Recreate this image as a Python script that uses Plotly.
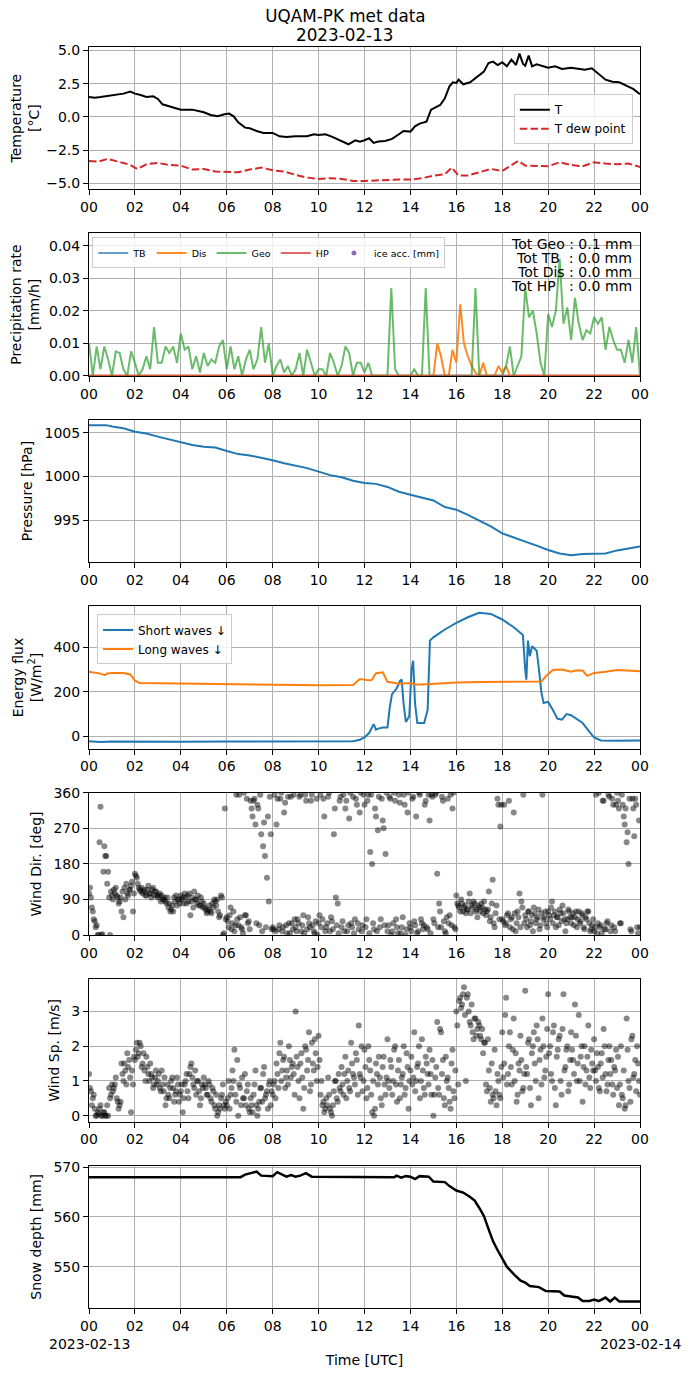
import plotly.graph_objects as go
from plotly.subplots import make_subplots

# ---- temperature (hours UTC since 2023-02-13 00:00) ----
t_temp = [0, 0.25, 0.5, 0.75, 1.0, 1.25, 1.5, 1.8, 2.0, 2.25,
          2.5, 2.8, 3.0, 3.2, 3.5, 3.8, 4.0, 4.5, 5.0, 5.3,
          5.6, 5.9, 6.1, 6.3, 6.5, 6.8, 7.0, 7.3, 7.6, 8.0,
          8.3, 8.6, 9.0, 9.5, 9.8, 10.0, 10.3, 10.6, 11.0, 11.3,
          11.6, 11.8, 12.0, 12.2, 12.4, 12.6, 12.9, 13.2, 13.5, 13.7,
          14.0, 14.2, 14.4, 14.7, 14.9, 15.1, 15.3, 15.5, 15.7, 15.85,
          16.0, 16.1, 16.3, 16.6, 16.9, 17.2, 17.4, 17.6, 17.8, 18.0,
          18.2, 18.4, 18.6, 18.75, 18.9, 19.0, 19.15, 19.3, 19.5, 19.8,
          20.0, 20.3, 20.6, 21.0, 21.3, 21.6, 21.9, 22.2, 22.5, 22.8,
          23.1, 23.4, 23.7, 24.0]
temp = [1.5, 1.45, 1.5, 1.55, 1.65, 1.7, 1.75, 1.9, 1.75, 1.65,
        1.5, 1.55, 1.35, 0.95, 0.8, 0.6, 0.55, 0.55, 0.35, 0.15,
        0.05, 0.2, 0.25, 0.05, -0.4, -0.8, -0.85, -1.05, -1.2, -1.2,
        -1.45, -1.5, -1.45, -1.45, -1.3, -1.35, -1.3, -1.5, -1.8, -2.05,
        -1.75, -1.85, -1.75, -1.6, -1.95, -1.85, -1.8, -1.65, -1.3, -1.05,
        -1.1, -0.7, -0.5, -0.35, 0.55, 0.75, 0.9, 1.4, 2.3, 2.6,
        2.55, 2.8, 2.45, 2.6, 3.0, 3.4, 4.05, 4.15, 3.9, 4.1,
        3.8, 4.3, 3.9, 4.75, 4.0, 3.85, 4.6, 3.8, 3.95, 3.8,
        3.7, 3.8, 3.6, 3.7, 3.65, 3.55, 3.65, 3.2, 2.8, 2.65,
        2.6, 2.35, 2.1, 1.7]

t_dew = [0, 0.4, 0.8, 1.2, 1.5, 1.8, 2.1, 2.5, 3.0, 3.5,
         4.0, 4.5, 5.0, 5.5, 6.0, 6.5, 7.0, 7.5, 8.0, 8.5,
         9.0, 9.5, 10.0, 10.5, 11.0, 11.5, 12.0, 12.5, 13.0, 13.5,
         14.0, 14.5, 15.0, 15.5, 15.8, 16.1, 16.5, 17.0, 17.5, 18.0,
         18.4, 18.7, 19.0, 19.5, 20.0, 20.5, 21.0, 21.5, 22.0, 22.5,
         23.0, 23.5, 24.0]
dew = [-3.3, -3.35, -3.15, -3.3, -3.45, -3.6, -3.9, -3.55, -3.45, -3.6,
       -3.65, -3.95, -3.9, -4.1, -4.15, -4.15, -3.95, -3.8, -4.0, -4.1,
       -4.35, -4.55, -4.65, -4.6, -4.65, -4.8, -4.8, -4.75, -4.7, -4.7,
       -4.7, -4.6, -4.4, -4.3, -3.8, -4.4, -4.4, -4.15, -3.9, -4.05,
       -3.6, -3.3, -3.65, -3.7, -3.7, -3.4, -3.6, -3.7, -3.4, -3.5,
       -3.55, -3.5, -3.75]

# ---- precipitation, 10 min steps (6 per hour) ----
geo = [0.010, 0.000, 0.009, 0.002, 0.009, 0.005,
       0.000, 0.0075, 0.007, 0.002, 0.000, 0.0075,
       0.004, 0.000, 0.002, 0.006, 0.002, 0.015,
       0.004, 0.004, 0.009, 0.007, 0.009, 0.004,
       0.013, 0.008, 0.009, 0.002, 0.006, 0.001,
       0.007, 0.003, 0.005, 0.004, 0.009, 0.011,
       0.002, 0.009, 0.002, 0.006, 0.000, 0.005,
       0.008, 0.002, 0.005, 0.015, 0.004, 0.010,
       0.000, 0.003, 0.005, 0.001, 0.003, 0.000,
       0.002, 0.007, 0.000, 0.008, 0.004, 0.000,
       0.002, 0.002, 0.000, 0.007, 0.004, 0.000,
       0.003, 0.009, 0.007, 0.000, 0.004, 0.004,
       0.001, 0.004, 0.000, 0.000, 0.000, 0.000,
       0.000, 0.027, 0.002, 0.000, 0.000, 0.000,
       0.000, 0.002, 0.000, 0.000, 0.027, 0.000,
       0.000, 0.000, 0.000, 0.000, 0.000, 0.000,
       0.000, 0.000, 0.000, 0.000, 0.000, 0.027,
       0.000, 0.000, 0.000, 0.000, 0.000, 0.000,
       0.000, 0.003, 0.009, 0.000, 0.003, 0.006,
       0.027, 0.018, 0.020, 0.013, 0.004, 0.000,
       0.019, 0.015, 0.020, 0.036, 0.016, 0.021,
       0.011, 0.024, 0.016, 0.011, 0.014, 0.013,
       0.018, 0.016, 0.018, 0.008, 0.015, 0.011,
       0.008, 0.008, 0.004, 0.011, 0.004, 0.015,
       0.000]
t_geo = [i / 6 for i in range(len(geo))]

t_dis = [0, 15.0, 15.17, 15.33, 15.5, 15.67, 15.83, 16.0, 16.17, 16.33, 16.5,
         16.67, 16.83, 17.0, 17.17, 17.33, 17.67, 17.83, 18.0, 18.17, 18.33, 24]
dis = [0, 0, 0.010, 0.006, 0.000, 0.000, 0.008, 0.004, 0.022, 0.010, 0.006,
       0.003, 0.001, 0.000, 0.004, 0.000, 0.000, 0.003, 0.001, 0.003, 0.000, 0]
t_tb = [0, 24]
tb = [0, 0]
hp = [0, 0]
totals = [("Tot Geo", "0.1"), ("Tot TB\u00a0", "0.0"), ("Tot Dis", "0.0"), ("Tot HP\u00a0\u00a0", "0.0")]

# ---- pressure ----
t_pres = [0, 0.75, 1.0, 1.5, 2, 2.5, 3, 3.5, 4, 4.5,
          5, 5.5, 6, 6.5, 7, 7.5, 8, 8.5, 9, 9.5,
          10, 10.5, 11, 11.5, 12, 12.5, 13, 13.5, 14, 14.5,
          15, 15.5, 16, 16.5, 17, 17.5, 18, 18.5, 19, 19.5,
          20, 20.5, 21, 21.5, 22, 22.5, 23, 23.5, 24]
pres = [1005.86, 1005.86, 1005.7, 1005.5, 1005.1, 1004.9, 1004.55, 1004.25, 1003.87, 1003.6,
        1003.4, 1003.3, 1002.9, 1002.55, 1002.4, 1002.15, 1001.85, 1001.5, 1001.2, 1000.95,
        1000.55, 1000.15, 999.9, 999.5, 999.25, 999.15, 998.8, 998.25, 997.9, 997.6,
        997.25, 996.5, 996.2, 995.6, 994.95, 994.3, 993.5, 993.0, 992.55, 992.1,
        991.6, 991.2, 991.0, 991.15, 991.15, 991.2, 991.55, 991.8, 992.0]

# ---- radiation ----
t_sw = [0, 0.5, 1, 2, 4, 6, 8, 10, 11.5, 11.8,
        12.0, 12.2, 12.4, 12.5, 12.6, 12.8, 13.0, 13.1, 13.2, 13.4,
        13.55, 13.62, 13.7, 13.8, 13.95, 14.05, 14.12, 14.2, 14.3, 14.6,
        14.75, 14.85, 15.0, 15.5, 16.0, 16.5, 17.0, 17.5, 18.0, 18.5,
        18.9, 19.0, 19.05, 19.12, 19.2, 19.3, 19.5, 19.6, 19.7, 19.8,
        20.0, 20.2, 20.4, 20.6, 20.8, 21.0, 21.2, 21.5, 21.8, 22.0,
        22.3, 23.0, 24.0]
sw = [-22, -25, -23, -24, -24, -23, -22, -20, -22, -15,
      -5, 15, 55, 30, 35, 40, 40, 130, 190, 215,
      250, 255, 150, 65, 90, 300, 340, 150, 60, 60,
      120, 430, 445, 480, 510, 535, 555, 550, 525, 490,
      455, 300, 255, 430, 360, 405, 385, 300, 200, 150,
      155, 120, 80, 75, 100, 95, 80, 60, 20, -5,
      -18, -20, -18]
t_lw = [0, 0.5, 0.7, 0.8, 1.0, 1.5, 1.8, 2.0, 2.2, 3,
        5, 6, 8, 10, 11.5, 11.8, 12.1, 12.3, 12.5, 12.8,
        13.0, 13.5, 14.0, 14.2, 14.5, 15, 16, 17, 18, 19,
        19.7, 19.9, 20.2, 20.6, 21.0, 21.2, 21.5, 21.7, 22.0, 22.5,
        23, 24]
lw = [290, 282, 275, 283, 285, 285, 278, 250, 240, 239,
      237, 236, 231, 230, 231, 258, 253, 252, 284, 288,
      245, 237, 240, 233, 233, 237, 242, 244, 246, 246,
      246, 270, 298, 300, 290, 296, 296, 272, 285, 290,
      298, 292]

# ---- wind, samples at :00 and :05 (12 per hour) ----
wdir = [105, 95, 60, 35, 25, 0, 325, 2, 225, 200, 160, 0,
        100, 115, 120, 95, 85, 60, 45, 90, 105, 115, 125, 60,
        155, 145, 120, 110, 105, 115, 100, 125, 105, 115, 100, 110,
        95, 105, 100, 90, 85, 95, 80, 65, 60, 85, 75, 90,
        100, 95, 105, 80, 85, 50, 95, 110, 90, 100, 75, 85,
        80, 65, 60, 75, 55, 70, 85, 90, 45, 100, 0, 320,
        45, 20, 70, 30, 10, 355, 25, 45, 15, 360, 50, 30,
        15, 320, 340, 280, 330, 25, 255, 225, 200, 145, 85, 255,
        20, 355, 280, 15, 345, 10, 310, 25, 350, 5, 30, 355,
        20, 40, 350, 10, 50, 355, 15, 30, 340, 25, 5, 345,
        30, 355, 40, 300, 20, 350, 10, 35, 255, 95, 80, 340,
        20, 355, 320, 10, 295, 30, 350, 40, 330, 15, 360, 25,
        330, 40, 355, 210, 180, 15, 300, 265, 20, 345, 270, 205,
        10, 350, 0, 30, 340, 20, 355, 5, 45, 330, 15, 360,
        20, 345, 35, 300, 10, 355, 30, 25, 340, 15, 290, 355,
        40, 355, 155, 80, 20, 340, 10, 45, 30, 355, 320, 20,
        100, 75, 60, 80, 70, 55, 65, 105, 75, 85, 60, 45,
        70, 80, 55, 65, 60, 110, 45, 140, 20, 75, 330, 275,
        40, 330, 30, 55, 20, 45, 310, 10, 60, 105, 85, 355,
        50, 20, 60, 35, 10, 55, 40, 65, 25, 355, 45, 30,
        60, 40, 85, 50, 20, 45, 65, 35, 55, 10, 40, 60,
        30, 55, 45, 20, 60, 35, 50, 15, 40, 60, 10, 25,
        10, 355, 30, 20, 5, 340, 15, 35, 350, 25, 330, 10,
        360, 320, 30, 330, 280, 235, 180, 15, 345, 250, 330, 5,
        20]
wspd = [1.2, 0.7, 0.5, 0.2, 0.0, 0.05, 0.3, 0.0, 0.1, 0.0, 0.0, 0.5,
        0.9, 0.8, 1.1, 0.4, 0.3, 1.5, 1.0, 1.3, 1.8, 1.6, 0.1, 0.9,
        1.6, 2.1, 1.8, 2.0, 1.5, 1.3, 1.7, 1.2, 1.5, 1.1, 0.9, 1.3,
        1.0, 0.8, 1.3, 0.7, 0.3, 0.9, 0.5, 1.0, 0.8, 0.6, 1.1, 0.4,
        0.7, 0.1, 0.9, 1.2, 0.5, 1.4, 1.1, 0.8, 0.6, 1.0, 0.3, 0.9,
        1.1, 0.8, 0.6, 0.9, 0.4, 0.7, 0.2, 0.0, 0.3, 0.5, 0.9, 0.2,
        0.3, 1.0, 0.6, 1.3, 1.9, 0.4, 0.0, 0.8, 1.1, 0.5, 0.3, 0.9,
        0.1, 0.3, 0.6, 1.3, 0.0, 0.4, 0.8, 1.2, 0.5, 0.7, 0.9, 0.3,
        0.6, 1.0, 1.5, 0.8, 2.1, 1.3, 1.7, 1.1, 0.9, 1.6, 1.4, 1.2,
        3.0, 1.4, 0.5, 1.8, 0.2, 2.0, 1.3, 2.4, 0.9, 1.5, 2.2, 1.0,
        2.3, 0.6, 0.3, 0.1, 0.5, 1.1, 0.2, 0.0, 0.7, 1.0, 0.4, 0.8,
        1.4, 0.6, 1.7, 1.0, 0.8, 2.1, 1.2, 0.9, 1.6, 2.6, 1.1, 0.7,
        1.9, 0.5, 2.0, 1.3, 0.1, 0.0, 1.5, 0.9, 1.1, 0.3, 1.7, 0.6,
        2.2, 0.8, 1.4, 1.0, 2.0, 0.4, 1.6, 0.9, 1.2, 0.6, 1.8, 0.2,
        1.3, 0.9, 2.4, 1.0, 1.5, 0.5, 2.2, 0.8, 1.7, 1.2, 1.9, 0.6,
        0.0, 1.1, 2.7, 0.6, 2.4, 1.6, 0.3, 1.0, 0.8, 0.2, 1.9, 0.5,
        3.0, 0.9, 3.4, 3.2, 3.7, 1.0, 3.5, 2.7, 3.2, 2.2, 2.8, 2.5,
        2.6, 2.2, 1.8, 2.1, 0.7, 1.3, 0.4, 0.6, 1.9, 0.3, 1.0, 0.5,
        2.4, 1.5, 3.4, 1.2, 2.4, 0.9, 2.8, 1.8, 0.6, 1.3, 1.6, 0.8,
        3.6, 1.2, 2.2, 0.3, 2.0, 1.5, 2.6, 0.5, 1.9, 2.8, 1.1, 1.7,
        3.5, 2.0, 1.0, 2.6, 0.3, 1.9, 2.3, 0.6, 3.5, 1.4, 2.0, 0.9,
        2.4, 1.6, 3.2, 1.0, 2.9, 1.7, 0.4, 2.0, 1.3, 2.6, 0.8, 1.5,
        2.2, 1.0, 1.4, 0.7, 1.8, 2.5, 1.2, 0.9, 2.0, 1.6, 0.6, 1.3,
        0.8, 0.3, 2.0, 0.5, 0.2, 2.8, 1.0, 0.4, 2.3, 1.2, 0.7, 1.5,
        0.6]
t_wind = [i / 12 for i in range(len(wdir))]

# second sample of each 5 min slot (at :02.5)
wdir2 = [120, 70, 40, 20, 0, 235, 0, 160, 200, 130, 95, 110,
         90, 105, 100, 80, 95, 110, 120, 130, 100, 115, 135, 105,
         150, 130, 115, 120, 110, 100, 115, 105, 95, 120, 110, 100,
         100, 85, 90, 95, 80, 70, 60, 75, 95, 100, 90, 80,
         90, 80, 95, 100, 105, 85, 70, 90, 80, 75, 95, 70,
         70, 55, 65, 60, 80, 90, 75, 60, 50, 95, 5, 40,
         35, 50, 15, 60, 25, 40, 355, 20, 5, 50, 345, 35,
         340, 300, 345, 30, 320, 355, 10, 285, 20, 300, 350, 15,
         15, 10, 345, 25, 360, 20, 335, 5, 30, 350, 15, 40,
         10, 30, 355, 25, 5, 340, 45, 20, 355, 10, 35, 0,
         50, 20, 345, 10, 30, 360, 45, 15, 320, 25, 5, 350,
         35, 10, 340, 25, 360, 20, 5, 345, 30, 310, 10, 355,
         20, 340, 5, 355, 30, 320, 10, 350, 40, 290, 25, 360,
         25, 345, 10, 360, 40, 5, 335, 20, 355, 0, 310, 30,
         10, 350, 25, 5, 360, 40, 15, 330, 20, 355, 5, 350,
         30, 360, 20, 60, 350, 35, 5, 345, 50, 25, 360, 15,
         80, 70, 90, 60, 75, 65, 85, 55, 70, 80, 65, 75,
         60, 70, 85, 50, 65, 35, 80, 30, 55, 345, 40, 330,
         35, 25, 50, 340, 40, 15, 55, 30, 45, 20, 70, 30,
         40, 60, 25, 50, 70, 30, 45, 15, 55, 40, 60, 20,
         50, 70, 30, 60, 45, 25, 55, 75, 40, 30, 65, 45,
         45, 25, 60, 40, 30, 55, 20, 45, 60, 30, 15, 40,
         20, 5, 360, 25, 340, 15, 30, 355, 10, 345, 20, 330,
         340, 30, 355, 300, 320, 260, 345, 10, 320, 345, 20, 290]
wspd2 = [0.8, 0.3, 0.6, 0.0, 0.1, 0.2, 0.0, 0.1, 0.0, 0.3, 0.8, 0.6,
         0.7, 0.9, 0.5, 0.2, 0.4, 1.2, 1.5, 0.9, 1.4, 1.1, 1.3, 1.7,
         1.9, 1.7, 2.1, 1.4, 1.8, 1.0, 1.4, 1.0, 1.2, 0.8, 1.1, 0.9,
         1.2, 0.7, 0.9, 1.1, 0.5, 0.6, 0.8, 1.1, 0.4, 0.7, 0.9, 0.6,
         0.9, 0.5, 1.0, 0.7, 1.2, 1.5, 0.9, 1.3, 1.0, 0.7, 0.5, 0.8,
         0.9, 0.6, 1.0, 0.5, 0.8, 0.3, 0.6, 0.1, 0.2, 0.6, 0.3, 0.4,
         0.5, 0.2, 0.8, 1.0, 0.6, 1.6, 0.9, 0.3, 0.5, 1.2, 0.7, 0.2,
         0.5, 0.1, 0.9, 0.3, 0.2, 0.8, 0.4, 1.4, 0.6, 0.2, 1.0, 0.7,
         0.9, 0.5, 1.2, 1.8, 1.0, 1.6, 0.8, 1.3, 2.0, 1.1, 1.5, 0.6,
         1.7, 1.0, 1.5, 1.1, 0.8, 1.9, 1.6, 0.7, 2.1, 1.3, 1.8, 1.4,
         1.6, 1.0, 0.4, 0.2, 0.3, 0.6, 0.1, 0.3, 1.0, 0.5, 1.2, 0.7,
         0.9, 1.2, 0.5, 1.3, 0.7, 1.5, 1.1, 1.8, 0.6, 1.2, 2.0, 1.0,
         1.4, 0.8, 1.6, 0.6, 1.0, 0.2, 1.2, 1.7, 0.5, 1.4, 0.9, 1.1,
         1.0, 1.6, 0.6, 1.9, 0.9, 1.3, 0.5, 1.1, 2.0, 0.8, 1.4, 1.0,
         1.7, 1.1, 0.7, 1.4, 2.0, 1.0, 1.3, 0.6, 1.5, 0.9, 1.2, 1.6,
         0.6, 1.4, 0.8, 2.5, 1.2, 0.5, 1.7, 1.1, 0.4, 1.5, 0.7, 1.3,
         2.6, 3.3, 3.1, 3.5, 2.9, 3.4, 3.0, 2.6, 2.4, 2.8, 2.3, 2.7,
         2.3, 2.5, 2.1, 0.9, 2.2, 0.8, 1.5, 0.5, 0.7, 1.2, 0.6, 1.4,
         1.1, 2.9, 0.9, 2.0, 1.4, 1.9, 1.0, 0.4, 1.5, 2.3, 0.7, 1.2,
         1.4, 2.1, 0.8, 1.8, 2.4, 1.0, 2.2, 1.6, 0.9, 2.0, 1.3, 2.5,
         1.8, 1.2, 2.4, 0.8, 1.7, 2.2, 1.0, 2.5, 1.3, 1.9, 0.7, 1.6,
         1.9, 1.2, 2.3, 1.5, 1.0, 2.0, 1.4, 0.9, 1.7, 1.1, 1.9, 1.3,
         1.3, 1.8, 0.8, 1.5, 1.1, 2.0, 0.7, 1.6, 1.2, 0.9, 1.4, 1.9,
         1.7, 0.9, 0.6, 1.3, 0.3, 1.9, 0.8, 2.2, 1.1, 1.6, 2.0, 1.0]
t_wind2 = [i / 12 + 1 / 24 for i in range(len(wdir2))]

# ---- snow depth ----
t_snow = [0, 6.6, 6.8, 7.0, 7.3, 7.5, 8.0, 8.2, 8.4, 8.6,
          8.8, 9.0, 9.2, 9.45, 9.7, 10.0, 13.3, 13.4, 13.6, 13.8,
          14.0, 14.2, 14.4, 14.8, 15.0, 15.5, 15.7, 16.0, 16.3, 16.6,
          16.8, 17.0, 17.2, 17.4, 17.6, 17.8, 18.0, 18.2, 18.5, 18.8,
          19.0, 19.2, 19.6, 19.9, 20.5, 20.7, 21.0, 21.3, 21.5, 21.8,
          22.0, 22.2, 22.5, 22.7, 22.9, 23.1, 24.0]
snow = [568, 568, 568.5, 568.8, 569.1, 568.3, 568.2, 569.0, 568.5, 568.1,
        568.4, 568.1, 568.3, 568.8, 568.1, 568.1, 568, 568.3, 567.9, 568.2,
        568.1, 567.6, 568.2, 568.1, 567.1, 567.0, 566.2, 565.3, 564.9, 564.0,
        563.3, 561.8, 560.2, 557.6, 555.1, 553.3, 551.6, 550.0, 548.5, 547.2,
        546.8, 546.1, 545.9, 545.1, 545.0, 544.2, 544.0, 543.8, 543.1, 543.1,
        543.4, 543.1, 543.8, 543.0, 543.8, 543.0, 543.0]

hour_ticks = list(range(0, 25, 2))
hour_text = ["%02d" % (h % 24) for h in hour_ticks]
day_labels = [(0, "2023-02-13"), (24, "2023-02-14")]

fig = make_subplots(rows=7, cols=1, vertical_spacing=0.035)

# panel 1
fig.add_trace(go.Scatter(x=t_temp, y=temp, mode='lines', name='T',
                         line=dict(color='black', width=2), legend='legend'), row=1, col=1)
fig.add_trace(go.Scatter(x=t_dew, y=dew, mode='lines', name='T dew point',
                         line=dict(color='#d62728', width=2, dash='7.5px,3.2px'), legend='legend'), row=1, col=1)

# panel 2
fig.add_trace(go.Scatter(x=t_tb, y=tb, mode='lines', name='TB', opacity=0.7,
                         line=dict(color='#1f77b4', width=2), legend='legend2'), row=2, col=1)
fig.add_trace(go.Scatter(x=t_dis, y=dis, mode='lines', name='Dis', opacity=0.9,
                         line=dict(color='#ff7f0e', width=2), legend='legend2'), row=2, col=1)
fig.add_trace(go.Scatter(x=t_geo, y=geo, mode='lines', name='Geo', opacity=0.7,
                         line=dict(color='#2ca02c', width=2), legend='legend2'), row=2, col=1)
fig.add_trace(go.Scatter(x=t_tb, y=hp, mode='lines', name='HP', opacity=0.7,
                         line=dict(color='#d62728', width=2), legend='legend2'), row=2, col=1)
fig.add_trace(go.Scatter(x=[None], y=[None], mode='markers', name='ice acc. [mm]',
                         marker=dict(color='#9467bd', size=5), legend='legend2'), row=2, col=1)

# panel 3
fig.add_trace(go.Scatter(x=t_pres, y=pres, mode='lines', showlegend=False,
                         line=dict(color='#1f77b4', width=2)), row=3, col=1)

# panel 4
fig.add_trace(go.Scatter(x=t_sw, y=sw, mode='lines', name='Short waves \u2193',
                         line=dict(color='#1f77b4', width=2), legend='legend3'), row=4, col=1)
fig.add_trace(go.Scatter(x=t_lw, y=lw, mode='lines', name='Long waves \u2193',
                         line=dict(color='#ff7f0e', width=2), legend='legend3'), row=4, col=1)

# panels 5, 6
dot = dict(color='black', size=6, opacity=0.47, line=dict(width=0))
for tx, vals, r in [(t_wind, wdir, 5), (t_wind2, wdir2, 5), (t_wind, wspd, 6), (t_wind2, wspd2, 6)]:
    fig.add_trace(go.Scatter(x=tx, y=vals, mode='markers', showlegend=False, marker=dot),
                  row=r, col=1)

# panel 7
fig.add_trace(go.Scatter(x=t_snow, y=snow, mode='lines', showlegend=False,
                         line=dict(color='black', width=2.5)), row=7, col=1)

axis_style = dict(showline=True, mirror=True, linecolor='black', linewidth=1,
                  ticks='outside', ticklen=5, tickcolor='black', automargin=False,
                  showgrid=True, gridcolor='#b0b0b0', gridwidth=1, zeroline=False,
                  tickfont=dict(size=14, color='black'))
for r in range(1, 8):
    fig.update_xaxes(range=[0, 24], tickvals=hour_ticks, tickangle=0,
                     ticktext=hour_text, row=r, col=1, **axis_style)
    fig.update_yaxes(row=r, col=1, title_font=dict(size=14), title_standoff=8, **axis_style)

fig.update_yaxes(range=[-5.43, 5.25], tickvals=[-5, -2.5, 0, 2.5, 5], tickformat='.1f',
                 title_text='Temperature<br>[°C]', row=1, col=1)
fig.update_yaxes(range=[0, 0.0438], tickvals=[0, 0.01, 0.02, 0.03, 0.04], tickformat='.2f',
                 title_text='Precipitation rate<br>[mm/h]', row=2, col=1)
fig.update_yaxes(range=[990.2, 1006.46], tickvals=[995, 1000, 1005],
                 title_text='Pressure [hPa]', row=3, col=1)
fig.update_yaxes(range=[-55, 584], tickvals=[0, 200, 400],
                 title_text='Energy flux<br>[W/m<sup>2</sup>]', row=4, col=1)
fig.update_yaxes(range=[0, 360], tickvals=[0, 90, 180, 270, 360],
                 title_text='Wind Dir. [deg]', row=5, col=1)
fig.update_yaxes(range=[-0.17, 3.93], tickvals=[0, 1, 2, 3],
                 title_text='Wind Sp. [m/s]', row=6, col=1)
fig.update_yaxes(range=[541.7, 570.3], tickvals=[550, 560, 570],
                 title_text='Snow depth [mm]', row=7, col=1)
fig.update_xaxes(title_text='Time [UTC]', title_font=dict(size=14), title_standoff=22,
                 row=7, col=1)

# date under first and last tick of the bottom axis
for xv, lab in day_labels:
    fig.add_annotation(text=lab, xref='x7', yref='y7 domain', x=xv, y=0, yshift=-36,
                       xanchor='center', yanchor='middle', showarrow=False,
                       font=dict(size=14, color='black'))

# precipitation totals, one line each (tight line spacing)
for i, (k, v) in enumerate(totals):
    fig.add_annotation(
        text='%s : %s mm' % (k, v),
        xref='x2 domain', yref='y2 domain', x=0.99, y=1.0, yshift=-1 - 14 * i,
        xanchor='right', yanchor='top', align='right', showarrow=False,
        font=dict(size=14, color='black'))

# second title line
fig.add_annotation(text='2023-02-13', xref='paper', yref='paper', x=0.4655, y=1.0,
                   yshift=12, xanchor='center', yanchor='middle', showarrow=False,
                   font=dict(size=16.8, color='black'))

legend_box = dict(bgcolor='rgba(255,255,255,0.8)', bordercolor='#cccccc', borderwidth=1)
fig.update_layout(
    width=690, height=1377,
    margin=dict(l=81, r=58, t=39, b=77),
    paper_bgcolor='white', plot_bgcolor='white',
    font=dict(family='DejaVu Sans', size=14, color='black'),
    title=dict(text='UQAM-PK met data', xref='paper', x=0.4655, xanchor='center',
               yref='container', y=0.9942, yanchor='middle', font=dict(size=16.8)),
    legend=dict(x=0.987, y=0.9625, xanchor='right', yanchor='top',
                font=dict(size=12), **legend_box),
    legend2=dict(x=0.006, y=0.849, xanchor='left', yanchor='top', orientation='h',
                 font=dict(size=9.5), itemwidth=30, **legend_box),
    legend3=dict(x=0.0145, y=0.550, xanchor='left', yanchor='top',
                 font=dict(size=12), **legend_box),
)

fig.write_html("out.html")
